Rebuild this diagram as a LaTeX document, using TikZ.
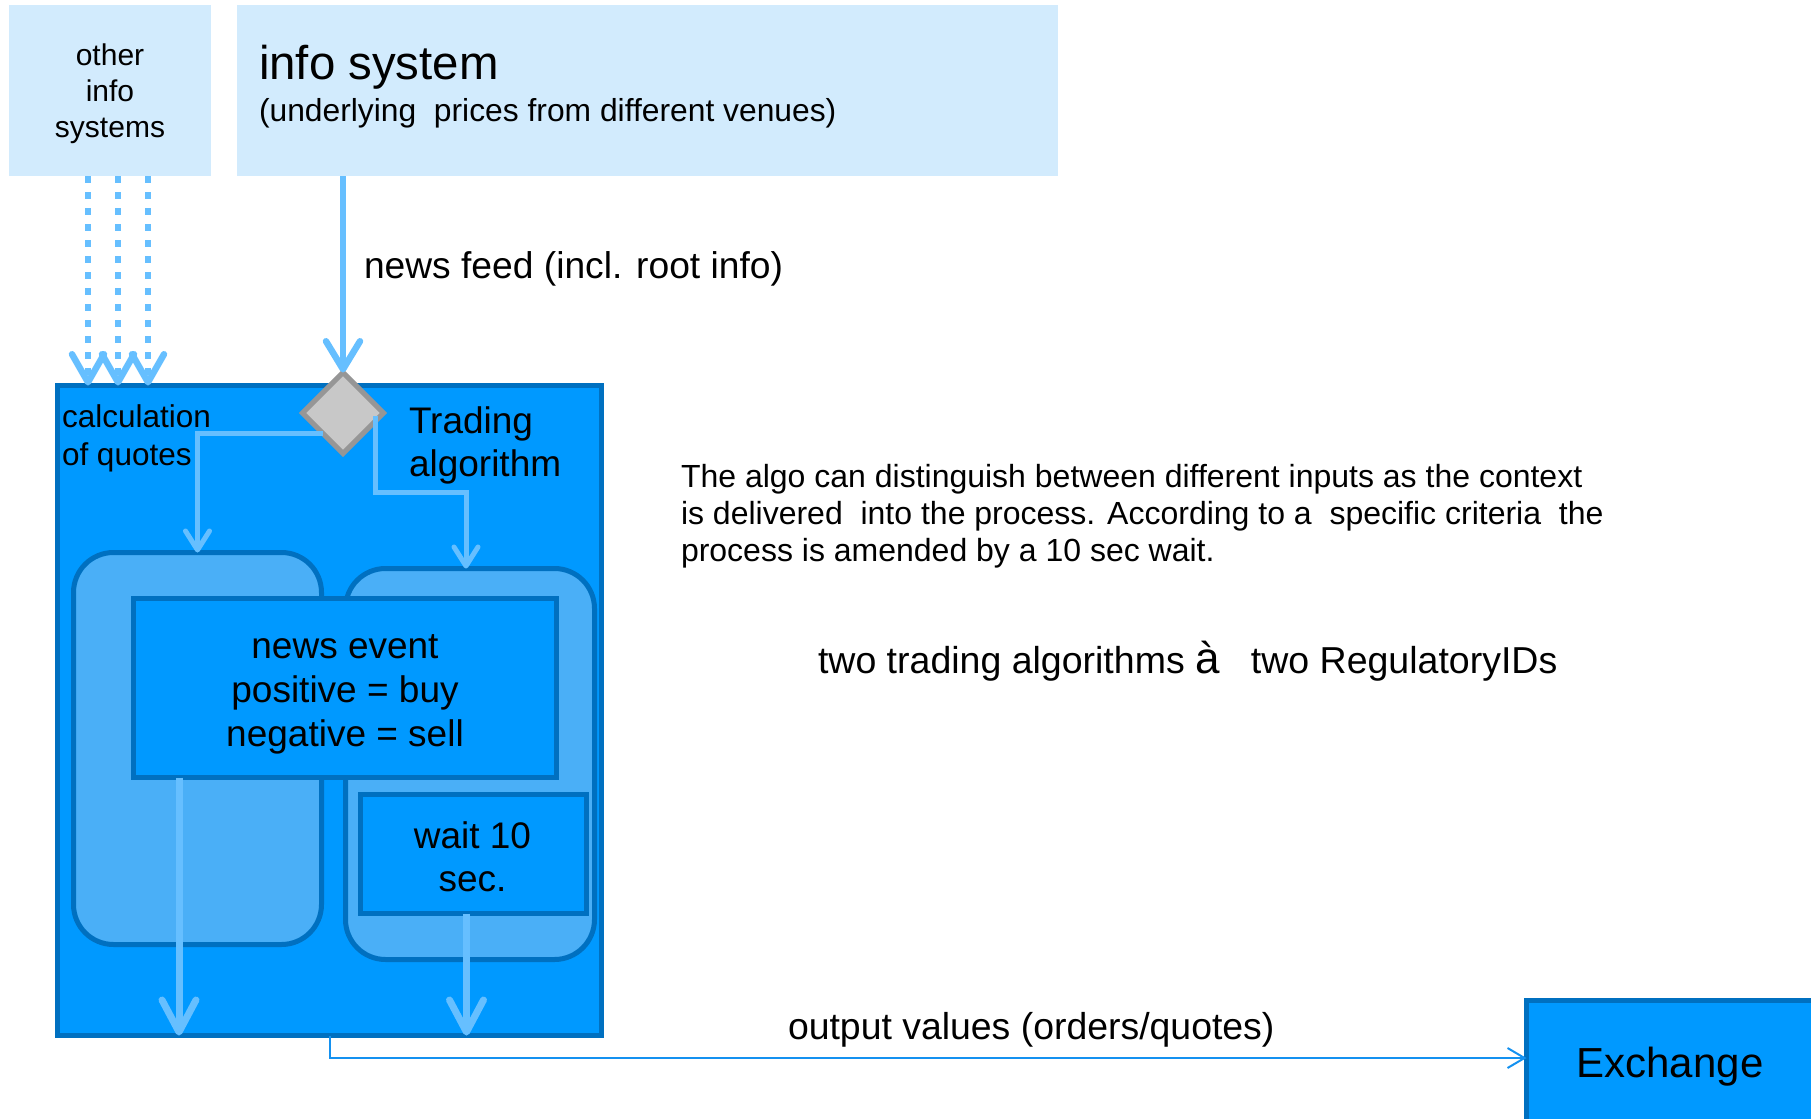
\documentclass[tikz,border=0pt]{standalone}
\usepackage{fontspec}
\setmainfont{Liberation Sans}
\usetikzlibrary{shapes.geometric,arrows.meta,calc}
\definecolor{lbox}{RGB}{210,235,253}
\definecolor{mblue}{RGB}{0,153,255}
\definecolor{dblue}{RGB}{0,112,192}
\definecolor{rblue}{RGB}{74,175,247}
\definecolor{abl}{RGB}{102,191,255}
\definecolor{oblue}{RGB}{20,145,240}
\definecolor{dgray}{RGB}{200,200,200}
\definecolor{dborder}{RGB}{150,150,150}
\newcommand\setfs[2]{\fontsize{#1}{#2}\selectfont}
\begin{document}
\begin{tikzpicture}[x=0.5pt,y=-0.5pt,
  every node/.style={inner sep=0pt, outer sep=0pt},
  lightbox/.style={fill=lbox, draw=none},
  bluebox/.style={fill=mblue, draw=dblue, line width=2.5pt},
  roundbox/.style={fill=rblue, draw=dblue, line width=2.5pt, rounded corners=20pt},
  decision/.style={diamond, aspect=1, fill=dgray, draw=dborder, line width=2.5pt},
  feedarrow/.style={draw=abl, line width=3.25pt, -{Straight Barb[length=14pt,width=17pt,round]}},
  dotarrow/.style={draw=abl, line width=3.25pt, dash pattern=on 3.25pt off 4.75pt, -{Straight Barb[length=14pt,width=16pt,round]}},
  thinarrow/.style={draw=abl, line width=2.5pt, -{Straight Barb[length=9.5pt,width=12pt,round]}},
  downarrow/.style={draw=abl, line width=3.5pt, -{Straight Barb[length=16pt,width=17pt,round]}},
  outarrow/.style={draw=oblue, line width=1pt, -{Straight Barb[length=8.5pt,width=10pt]}}
]
\useasboundingbox (0,0) rectangle (1811,1119);
\clip (0,0) rectangle (1811,1119);

% top info boxes
\node[lightbox, minimum width=101pt, minimum height=85.5pt] (other) at (110,90.5) {};
\node[align=center, font=\setfs{15}{18}] (othertxt) at ($(other.center)+(0,3.5)$) {other\\info\\systems};
\node[lightbox, minimum width=410.5pt, minimum height=85.5pt] (info) at (647.5,90.5) {};
\node[anchor=base west, font=\setfs{23.7}{28}] (infotitle) at (259,79) {info system};
\node[anchor=base west, font=\setfs{15.9}{19}] (infosub) at (259,121) {(underlying\ \ prices from different venues)};

% main container
\node[bluebox, minimum width=272pt, minimum height=325pt] (main) at (329.5,710.5) {};
\node[roundbox, minimum width=124pt, minimum height=196pt] (lround) at (197.5,748.5) {};
\node[roundbox, minimum width=124.5pt, minimum height=195.5pt] (rround) at (470,764) {};
\node[bluebox, minimum width=211.5pt, minimum height=89.5pt] (news) at (345,688) {};
\node[align=center, font=\setfs{18.5}{22}] (newstxt) at ($(news.center)+(0,6)$) {news event\\positive = buy\\negative = sell};
\node[bluebox, minimum width=113pt, minimum height=59.5pt] (wait) at (473.5,854) {};
\node[align=center, font=\setfs{18.5}{21.5}] (waittxt) at ($(wait.center)+(-1,3)$) {wait 10\\sec.};
\node[decision, minimum width=40.5pt, minimum height=40.5pt] (dia) at (343,413) {};

\node[anchor=north west, align=left, font=\setfs{15.75}{19}] (calc) at (62,405) {calculation\\of quotes};
\node[anchor=north west, align=left, font=\setfs{18.5}{21.5}] (trad) at (409,407) {Trading\\algorithm};

% exchange
\node[bluebox, minimum width=143.5pt, minimum height=61.5pt, text depth=0pt, font=\setfs{21}{25}] (exch) at (1670,1062) {Exchange};

% arrows inside the algorithm box
\draw[thinarrow] (dia.south west) -| (lround.north);
\coordinate (rstart) at ($(dia.east)+(-8,3)$);
\coordinate (rbend) at ($(rround.north)+(-4,-76)$);
\coordinate (rend) at ($(rround.north)+(-4,0)$);
\draw[thinarrow] (rstart) |- (rbend) -- (rend);

\coordinate (l1) at ($(news.south)+(-166,0)$);
\draw[downarrow] (l1) -- (l1 |- main.south);
\coordinate (r1) at ($(wait.south)+(-7,0)$);
\draw[downarrow] (r1) -- (r1 |- main.south);

% inputs
\coordinate (d1) at ($(other.south)+(-22,0)$);
\coordinate (d2) at ($(other.south)+(8,0)$);
\coordinate (d3) at ($(other.south)+(38,0)$);
\draw[dotarrow] (d1) -- (d1 |- main.north);
\draw[dotarrow] (d2) -- (d2 |- main.north);
\draw[dotarrow] (d3) -- (d3 |- main.north);
\draw[feedarrow] (dia.north |- info.south) -- (dia.north);
\node[anchor=base west, font=\setfs{18.6}{22}] (feedlbl) at (364,278) {news feed (incl. root info)};

% output
\draw[outarrow] (main.south) |- ($(exch.west)+(0,-4)$);
\node[anchor=base west, font=\setfs{18.7}{22}] (outlbl) at (788,1039) {output values (orders/quotes)};

% explanatory text
\node[anchor=north west, align=left, font=\setfs{16}{18.5}] (para) at (681,464) {The algo can distinguish between different inputs as the context\\is delivered\ \ into the process. According to a\ \ specific criteria\ \ the\\process is amended by a 10 sec wait.};
\node[anchor=base west, font=\setfs{18.75}{22}] (twoalg) at (818,673) {two trading algorithms {\setfs{22}{22}à}\ \ \ two RegulatoryIDs};
\end{tikzpicture}
\end{document}
